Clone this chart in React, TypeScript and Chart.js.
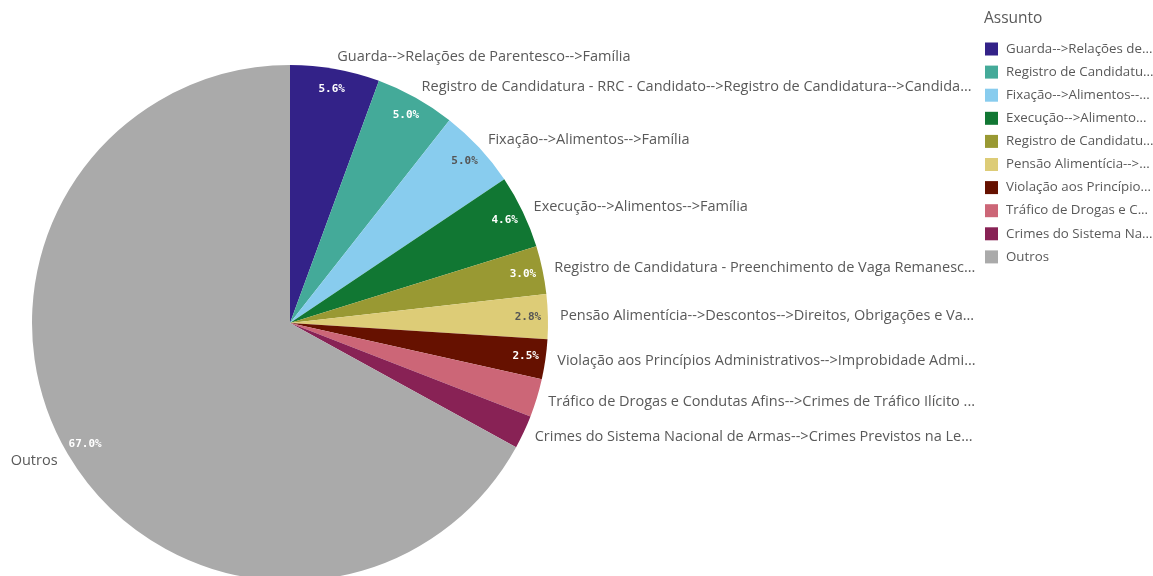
import React, { useEffect, useRef } from "react";
import { Chart, registerables } from "chart.js";

Chart.register(...registerables);

const categories: string[] = [
  "Guarda-->Relações de Parentesco-->Família",
  "Registro de Candidatura - RRC - Candidato-->Registro de Candidatura-->Candida...",
  "Fixação-->Alimentos-->Família",
  "Execução-->Alimentos-->Família",
  "Registro de Candidatura - Preenchimento de Vaga Remanesc...",
  "Pensão Alimentícia-->Descontos-->Direitos, Obrigações e Va...",
  "Violação aos Princípios Administrativos-->Improbidade Admi...",
  "Tráfico de Drogas e Condutas Afins-->Crimes de Tráfico Ilícito ...",
  "Crimes do Sistema Nacional de Armas-->Crimes Previstos na Le...",
  "Outros",
];

const legendLabels: string[] = [
  "Guarda-->Relações de...",
  "Registro de Candidatu...",
  "Fixação-->Alimentos--...",
  "Execução-->Alimento...",
  "Registro de Candidatu...",
  "Pensão Alimentícia-->...",
  "Violação aos Princípio...",
  "Tráfico de Drogas e C...",
  "Crimes do Sistema Na...",
  "Outros",
];

const values: number[] = [5.6, 5.0, 5.0, 4.6, 3.0, 2.8, 2.5, 2.4, 2.1, 67.0];

const colors: string[] = [
  "#332288",
  "#44aa99",
  "#88ccee",
  "#117733",
  "#999933",
  "#ddcc77",
  "#661100",
  "#cc6677",
  "#882255",
  "#aaaaaa",
];

const legendTitle = "Assunto";

const TEXT_COLOR = "#595959";
const LABEL_FONT = "14.5px 'Open Sans', sans-serif";
const PCT_FONT = "bold 11px 'DejaVu Sans Mono', monospace";

function isLight(hex: string): boolean {
  const r = parseInt(hex.slice(1, 3), 16);
  const g = parseInt(hex.slice(3, 5), 16);
  const b = parseInt(hex.slice(5, 7), 16);
  const lum = (0.299 * r + 0.587 * g + 0.114 * b) / 255;
  return lum > 0.7;
}

const labelsPlugin = {
  id: "qlikLabels",
  afterDatasetsDraw(chart: any) {
    const ctx = chart.ctx as CanvasRenderingContext2D;
    const meta = chart.getDatasetMeta(0);
    const data = chart.data.datasets[0].data as number[];
    const total = data.reduce((a, b) => a + b, 0);
    ctx.save();
    meta.data.forEach((arc: any, i: number) => {
      const { x, y, startAngle, endAngle, outerRadius } = arc.getProps(
        ["x", "y", "startAngle", "endAngle", "outerRadius"],
        true
      );
      const mid = (startAngle + endAngle) / 2;
      const pct = (data[i] / total) * 100;
      if (pct >= 2.5) {
        const pr = outerRadius - 20;
        ctx.font = PCT_FONT;
        ctx.textAlign = "center";
        ctx.textBaseline = "middle";
        ctx.fillStyle = isLight(colors[i]) ? "#555555" : "#ffffff";
        ctx.fillText(pct.toFixed(1) + "%", x + pr * Math.cos(mid), y + pr * Math.sin(mid));
      }
      const lr = outerRadius + 12;
      const lx = x + lr * Math.cos(mid);
      const ly = y + lr * Math.sin(mid);
      ctx.font = LABEL_FONT;
      ctx.fillStyle = TEXT_COLOR;
      ctx.textBaseline = "middle";
      ctx.textAlign = Math.cos(mid) >= 0 ? "left" : "right";
      ctx.fillText(String(chart.data.labels[i]), lx, ly);
    });

    ctx.font = "15.5px 'Open Sans', sans-serif";
    ctx.fillStyle = TEXT_COLOR;
    ctx.textAlign = "left";
    ctx.textBaseline = "middle";
    ctx.fillText(legendTitle, 984, 19);
    ctx.font = "13.3px 'Open Sans', sans-serif";
    legendLabels.forEach((lab, i) => {
      const cy = 49 + i * 23.1;
      ctx.fillStyle = colors[i];
      ctx.fillRect(985, cy - 6.5, 13, 13);
      ctx.fillStyle = TEXT_COLOR;
      ctx.fillText(lab, 1006, cy);
    });
    ctx.restore();
  },
};

export default function App() {
  const ref = useRef<HTMLCanvasElement>(null);
  useEffect(() => {
    if (!ref.current) return;
    const chart = new Chart(ref.current, {
      type: "pie",
      data: {
        labels: categories,
        datasets: [
          {
            data: values,
            backgroundColor: colors,
            borderWidth: 0,
          },
        ],
      },
      options: {
        responsive: false,
        animation: false,
        layout: { padding: { left: 32, top: 65, right: 605, bottom: 19 } },
        plugins: {
          legend: { display: false },
          tooltip: { enabled: false },
        },
      },
      plugins: [labelsPlugin],
    });
    return () => chart.destroy();
  }, []);
  return (
    <div
      style={{
        position: "fixed",
        left: 0,
        top: 0,
        width: 1153,
        height: 576,
        overflow: "hidden",
        background: "#ffffff",
      }}
    >
      <canvas ref={ref} width={1153} height={600} style={{ display: "block" }} />
    </div>
  );
}
